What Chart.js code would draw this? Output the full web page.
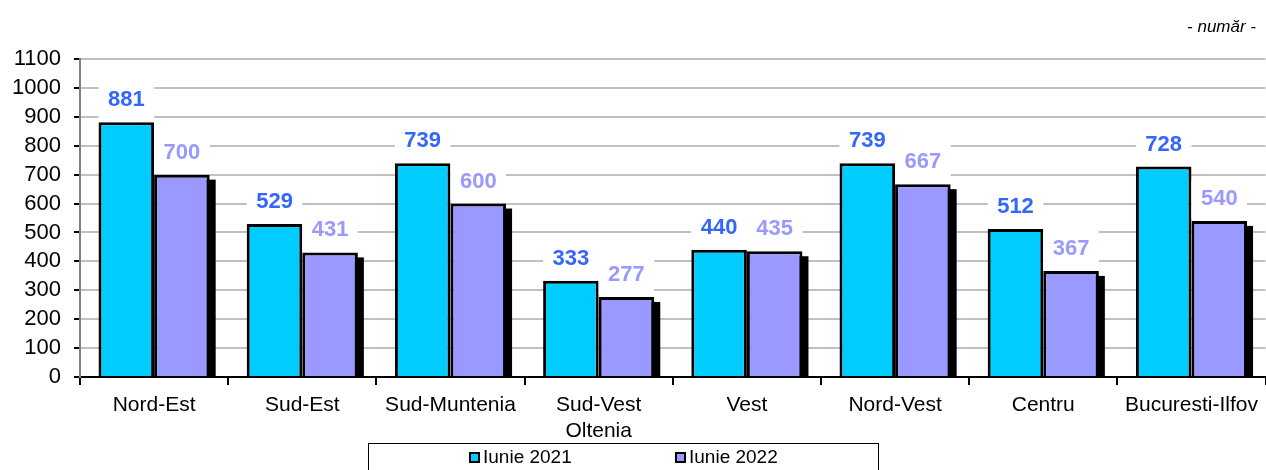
<!DOCTYPE html>
<html>
<head>
<meta charset="utf-8">
<script src="https://cdn.jsdelivr.net/npm/chart.js@4"></script>
<style>
  body { margin: 0; background: #fff; }
  #wrap { width: 1266px; height: 470px; position: relative; }
</style>
</head>
<body>
<div id="wrap"><canvas id="RegiuniChart"></canvas></div>
<script>
// date pe regiuni
var regiuni = ['Nord-Est', 'Sud-Est', 'Sud-Muntenia', ['Sud-Vest', 'Oltenia'], 'Vest', 'Nord-Vest', 'Centru', 'Bucuresti-Ilfov'];
var iunie2021 = [881, 529, 739, 333, 440, 739, 512, 728];
var iunie2022 = [700, 431, 600, 277, 435, 667, 367, 540];
var yTicks = [0, 100, 200, 300, 400, 500, 600, 700, 800, 900, 1000, 1100];

var FONT = "'Liberation Sans', Arial, sans-serif";
var labelColors = ['#3366FF', '#9999FF'];

// umbra neagra in spatele barelor 2022
var shadowPlugin = {
  id: 'shadow',
  beforeDatasetsDraw: function (chart) {
    var ctx = chart.ctx, area = chart.chartArea;
    ctx.save();
    ctx.beginPath();
    ctx.rect(area.left, area.top, area.right - area.left, area.bottom - area.top);
    ctx.clip();
    ctx.fillStyle = '#000';
    chart.getDatasetMeta(1).data.forEach(function (bar) {
      ctx.fillRect(bar.x - bar.width / 2 + 6, bar.y + 5, bar.width, bar.base - bar.y);
    });
    ctx.restore();
  }
};

// etichete cu fundal alb
var valuePlugin = {
  id: 'values',
  afterDatasetsDraw: function (chart) {
    var ctx = chart.ctx;
    ctx.save();
    chart.data.datasets.forEach(function (ds, i) {
      chart.getDatasetMeta(i).data.forEach(function (bar, j) {
        ctx.fillStyle = '#fff';
        ctx.fillRect(bar.x - bar.width / 2, bar.y - 40, bar.width, 37);
        ctx.fillStyle = labelColors[i];
        ctx.font = 'bold 22px ' + FONT;
        ctx.textAlign = 'center';
        ctx.textBaseline = 'middle';
        ctx.fillText(ds.data[j], bar.x, bar.y - 22);
      });
    });
    ctx.restore();
  }
};

// legenda in chenar + unitatea de masura
var extrasPlugin = {
  id: 'extras',
  afterDraw: function (chart) {
    var ctx = chart.ctx;
    ctx.save();
    ctx.font = 'italic 17px ' + FONT;
    ctx.fillStyle = '#000';
    ctx.textAlign = 'right';
    ctx.textBaseline = 'middle';
    ctx.fillText('- număr -', 1256, 27);

    ctx.strokeStyle = '#000';
    ctx.lineWidth = 1;
    ctx.strokeRect(368.5, 443.5, 510, 40);
    var xs = [470, 676];
    ctx.font = '19px ' + FONT;
    ctx.textAlign = 'left';
    chart.data.datasets.forEach(function (ds, i) {
      ctx.fillStyle = ds.backgroundColor;
      ctx.fillRect(xs[i], 453, 9, 9);
      ctx.lineWidth = 2;
      ctx.strokeRect(xs[i], 453, 9, 9);
      ctx.fillStyle = '#000';
      ctx.fillText(ds.label, xs[i] + 13, 458);
    });
    ctx.restore();
  }
};

var ctx = document.getElementById('RegiuniChart').getContext('2d');
var myChart = new Chart(ctx, {
  type: 'bar',
  data: {
    labels: regiuni,
    datasets: [
      {
        label: 'Iunie 2021',
        data: iunie2021,
        backgroundColor: '#00CCFF',
        borderColor: '#000',
        borderWidth: 3,
        borderSkipped: 'bottom'
      },
      {
        label: 'Iunie 2022',
        data: iunie2022,
        backgroundColor: '#9999FF',
        borderColor: '#000',
        borderWidth: 3,
        borderSkipped: 'bottom'
      }
    ]
  },
  options: {
    responsive: true,
    maintainAspectRatio: false,
    animation: false,
    layout: { padding: { top: 59, left: 0, right: 0, bottom: 30 } },
    datasets: { bar: { categoryPercentage: 0.75, barPercentage: 1 } },
    plugins: {
      legend: { display: false },
      tooltip: { enabled: false }
    },
    scales: {
      x: {
        grid: { display: true, drawOnChartArea: false, offset: true, tickLength: 8, tickColor: '#000', lineWidth: 2 },
        border: { color: '#000', width: 2 },
        ticks: { color: '#000', font: { family: FONT, size: 21 }, padding: 8, maxRotation: 0, autoSkip: false },
        afterFit: function (scale) { scale.height = 63; }
      },
      y: {
        min: 0,
        max: 1100,
        afterBuildTicks: function (scale) {
          scale.ticks = yTicks.map(function (v) { return { value: v }; });
        },
        grid: {
          color: function (c) { return c.tick && c.tick.value === 0 ? 'rgba(0,0,0,0)' : '#C0C0C0'; },
          lineWidth: 2,
          tickLength: 6,
          tickColor: '#000'
        },
        border: { color: '#808080', width: 2 },
        ticks: {
          color: '#000',
          font: { family: FONT, size: 22 },
          padding: 13,
          autoSkip: false,
          callback: function (v) { return String(v); }
        },
        afterFit: function (scale) { scale.width = 80; }
      }
    }
  },
  plugins: [shadowPlugin, valuePlugin, extrasPlugin]
});
</script>
</body>
</html>
